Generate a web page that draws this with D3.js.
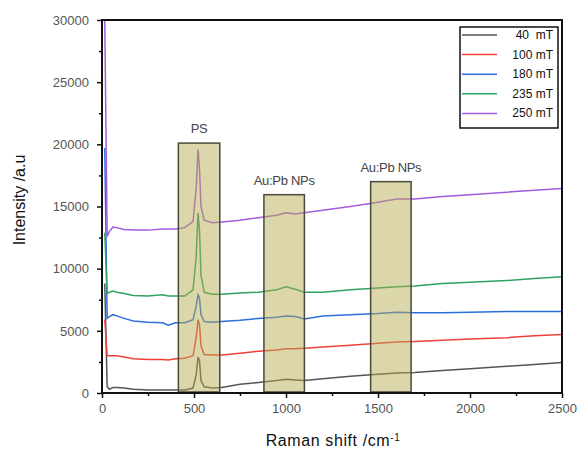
<!DOCTYPE html>
<html>
<head>
<meta charset="utf-8">
<script src="https://cdn.jsdelivr.net/npm/d3@7"></script>
<style>
  body { margin: 0; background: #fff; }
  svg { font-family: "Liberation Sans", Arial, sans-serif; }
</style>
</head>
<body>
<svg id="canvas"></svg>
<script>
let width = 580;
let height = 452;
let margin = { top: 20, right: 18, bottom: 59, left: 102 };

// Raman shift grid (cm-1)
const shift = [15, 28, 40, 60, 80, 120, 170, 250, 330, 360, 400, 450, 495, 512, 522, 530, 538, 555, 600, 650,
    750, 850, 950, 1000, 1050, 1100, 1200, 1350, 1500, 1600, 1700, 1850, 2000, 2200, 2350, 2500];

const s40 = [8800, 500, 300, 450, 450, 400, 300, 250, 250, 250, 250, 250, 400, 1500, 2900, 2600, 1000, 500, 400, 450,
    700, 850, 1000, 1100, 1050, 1000, 1150, 1350, 1500, 1600, 1650, 1800, 1950, 2150, 2300, 2450];
const s100 = [5900, 3000, 3000, 3000, 3000, 2900, 2750, 2700, 2700, 2650, 2750, 2800, 3000, 4500, 5900, 5500, 3800, 3100, 3050, 3050,
    3200, 3350, 3450, 3550, 3550, 3600, 3700, 3850, 4000, 4100, 4150, 4250, 4350, 4450, 4600, 4700];
const s180 = [19700, 6000, 6150, 6300, 6200, 6000, 5800, 5700, 5650, 5450, 5650, 5650, 5900, 7000, 7900, 7600, 6300, 5750, 5700, 5750,
    5850, 6000, 6100, 6200, 6150, 5950, 6200, 6300, 6400, 6500, 6450, 6450, 6500, 6550, 6550, 6550];
const s235 = [12900, 8000, 8100, 8200, 8100, 8000, 7850, 7800, 7900, 7800, 7800, 7800, 8300, 11000, 14500, 13000, 9500, 8100, 7950, 7950,
    8050, 8100, 8300, 8550, 8350, 8100, 8100, 8300, 8450, 8550, 8600, 8800, 8900, 9050, 9200, 9350];
const s250 = [30000, 12600, 13000, 13350, 13300, 13150, 13100, 13100, 13200, 13200, 13200, 13300, 13800, 16500, 19600, 18000, 15000, 13900, 13700, 13750,
    13900, 14100, 14300, 14500, 14400, 14500, 14700, 15000, 15350, 15600, 15600, 15800, 15950, 16150, 16300, 16450];

const seriesNames = ['40  mT', '100 mT', '180 mT', '235 mT', '250 mT'];
const seriesValues = [s40, s100, s180, s235, s250];
const seriesColors = ['#555555', '#f0403c', '#2a6fdc', '#2ea261', '#a45ae0'];

// highlighted regions
const regionLabels = ['PS', 'Au:Pb NPs', 'Au:Pb NPs'];
const regionStart = [415, 880, 1460];
const regionEnd = [640, 1100, 1680];
const regionTop = [20100, 15950, 17000];

const xTicks = [0, 500, 1000, 1500, 2000, 2500];
const yTicks = [0, 5000, 10000, 15000, 20000, 25000, 30000];

let canvas = d3.select('#canvas').attr('width', width).attr('height', height);

let xScale = d3.scaleLinear().domain([0, 2500]).range([margin.left, width - margin.right]);
let yScale = d3.scaleLinear().domain([0, 30000]).range([height - margin.bottom, margin.top]);

canvas.append('defs').append('clipPath').attr('id', 'clip')
    .append('rect')
    .attr('x', margin.left).attr('y', margin.top)
    .attr('width', width - margin.left - margin.right)
    .attr('height', height - margin.top - margin.bottom);

let line = d3.line()
    .x((d, i) => xScale(shift[i]))
    .y((d) => yScale(d));

let plot = canvas.append('g').attr('clip-path', 'url(#clip)');

seriesValues.forEach((vals, k) => {
    plot.append('path')
        .attr('d', line(vals))
        .attr('fill', 'none')
        .attr('stroke', seriesColors[k])
        .attr('stroke-width', 1.5);
});

// translucent boxes over the lines
regionLabels.forEach((label, i) => {
    canvas.append('rect')
        .attr('x', xScale(regionStart[i]))
        .attr('y', yScale(regionTop[i]))
        .attr('width', xScale(regionEnd[i]) - xScale(regionStart[i]))
        .attr('height', yScale(0) - yScale(regionTop[i]) - 1)
        .attr('fill', 'rgb(180,172,80)')
        .attr('fill-opacity', 0.48)
        .attr('stroke', '#4a4a3a')
        .attr('stroke-width', 1.5);
    canvas.append('text')
        .attr('x', (xScale(regionStart[i]) + xScale(regionEnd[i])) / 2)
        .attr('y', yScale(regionTop[i]) - 10)
        .attr('text-anchor', 'middle')
        .attr('font-size', 13)
        .attr('fill', '#444')
        .attr('letter-spacing', -0.3)
        .text(label);
});

// axes
let xAxis = d3.axisBottom(xScale).tickValues(xTicks).tickSize(5).tickPadding(6).tickFormat(d3.format('d'));
let yAxis = d3.axisLeft(yScale).tickValues(yTicks).tickSize(5).tickPadding(8).tickFormat(d3.format('d'));

let minorX = d3.axisBottom(xScale).tickValues(d3.range(250, 2500, 500)).tickSize(3).tickFormat('');
let minorY = d3.axisLeft(yScale).tickValues(d3.range(2500, 30000, 5000)).tickSize(3).tickFormat('');

let gx = canvas.append('g').attr('transform', `translate(0, ${height - margin.bottom})`).call(xAxis);
let gy = canvas.append('g').attr('transform', `translate(${margin.left}, 0)`).call(yAxis);
canvas.append('g').attr('transform', `translate(0, ${height - margin.bottom})`).call(minorX)
    .call((g) => g.select('.domain').remove());
canvas.append('g').attr('transform', `translate(${margin.left}, 0)`).call(minorY)
    .call((g) => g.select('.domain').remove());

canvas.selectAll('.tick line').attr('stroke', '#111').attr('stroke-width', 1.5);
[gx, gy].forEach((g) => {
    g.select('.domain').remove();
    g.selectAll('text').attr('font-size', 13).attr('fill', '#555')
        .attr('font-family', '"Liberation Sans", Arial, sans-serif');
});

// frame
canvas.append('rect')
    .attr('x', margin.left).attr('y', margin.top)
    .attr('width', width - margin.left - margin.right)
    .attr('height', height - margin.top - margin.bottom)
    .attr('fill', 'none')
    .attr('stroke', '#111')
    .attr('stroke-width', 2);

// axis titles
canvas.append('text')
    .attr('transform', 'translate(25, 200) rotate(-90)')
    .attr('text-anchor', 'middle')
    .attr('font-size', 16)
    .attr('fill', '#111')
    .text('Intensity /a.u');

let xt = canvas.append('text')
    .attr('x', 333)
    .attr('y', 446)
    .attr('text-anchor', 'middle')
    .attr('font-size', 16)
    .attr('letter-spacing', 0.6)
    .attr('fill', '#111')
    .text('Raman shift /cm');
xt.append('tspan').attr('baseline-shift', 'super').attr('font-size', 10).text('-1');

// legend
let legend = canvas.append('g');
legend.append('rect')
    .attr('x', 460).attr('y', 27).attr('width', 98).attr('height', 101)
    .attr('fill', '#fff').attr('stroke', '#111').attr('stroke-width', 1.5);

seriesNames.forEach((name, k) => {
    let y = 35 + k * 19.6;
    legend.append('line')
        .attr('x1', 462).attr('x2', 497).attr('y1', y).attr('y2', y)
        .attr('stroke', seriesColors[k]).attr('stroke-width', 1.5);
    legend.append('text')
        .attr('x', 553).attr('y', y + 4)
        .attr('text-anchor', 'end')
        .attr('font-size', 12)
        .attr('fill', '#111')
        .style('white-space', 'pre')
        .text(name);
});
</script>
</body>
</html>
